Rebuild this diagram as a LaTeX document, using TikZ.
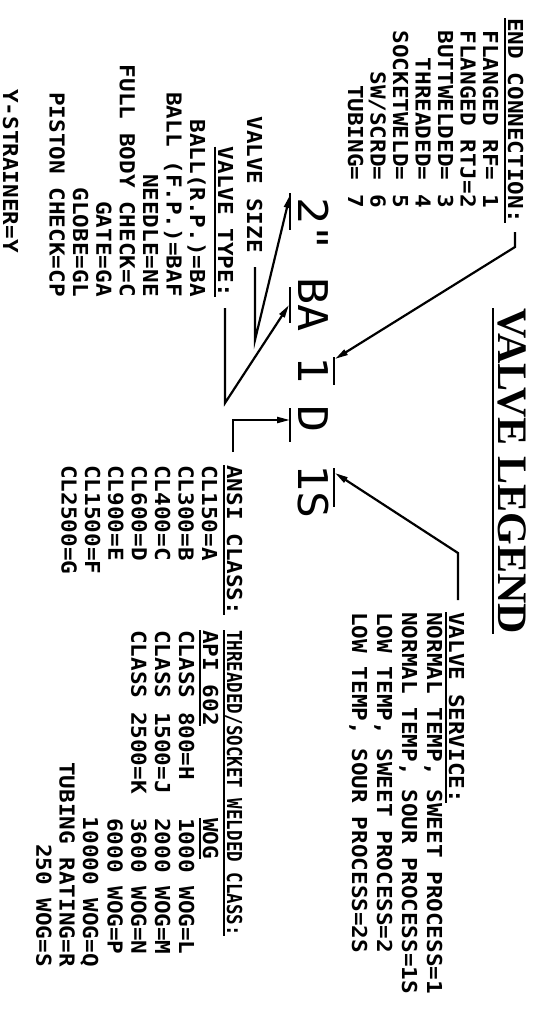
\documentclass[tikz,border=0pt]{standalone}
\usepackage{fontspec}
\usepackage{tikz}
\usetikzlibrary{arrows.meta}
\newfontfamily\cadfont[FakeStretch=1.1]{DejaVu Sans Mono}
\newfontfamily\cadnarrow[FakeStretch=0.85]{DejaVu Sans Mono}
\newfontfamily\legendfont{Liberation Serif}
\tikzset{
  every node/.append style={inner sep=0pt},
  cadtext/.style={rotate=-90,font=\cadfont\bfseries\fontsize{20.6}{22}\selectfont},
  cadcode/.style={rotate=-90,font=\cadfont\fontsize{41}{44}\selectfont},
  leader/.style={line width=2.2pt},
  pointer/.style={leader,-{Triangle[length=13pt,width=6pt]}},
  ruler/.style={line width=2pt},
}

\begin{document}
\begin{tikzpicture}[x=1pt,y=1pt]
  \useasboundingbox (0,0) rectangle (539,-1010);
  % Sheet is turned a quarter turn clockwise: every text runs downwards.
  \node[rotate=-90,anchor=base west,font=\legendfont\bfseries\fontsize{42}{44}\selectfont] (title) at (498,-308) {VALVE LEGEND};
  \draw[ruler] ([xshift=-5pt]title.base west) -- ([xshift=-5pt]title.base east);

  % end connection
  \node[cadtext,anchor=base west] (endhd) at (508,-18) {END CONNECTION:};
  \draw[ruler] ([xshift=-3pt]endhd.base west) -- ([xshift=-3pt]endhd.base east);
  \foreach \t [count=\i] in {FLANGED RF= 1,FLANGED RTJ=2,BUTTWELDED= 3,THREADED= 4,SOCKETWELD= 5,SW/SCRD= 6,TUBING= 7}
    \node[cadtext,anchor=base east] (end\i) at ({483-22.5*(\i-1)},-208) {\t};

  % the valve code
  \node[cadcode,anchor=base west] (size) at (298,-197) {2"};
  \node[cadcode,anchor=base west] (type) at (298,-277) {BA};
  \node[cadcode,anchor=base west] (conn) at (298,-356) {1};
  \node[cadcode,anchor=base west] (class) at (298,-405) {D};
  \node[cadcode,anchor=base west] (serv) at (298,-464) {1S};
  \draw[leader] (290,-193) -- (290,-230);
  \draw[leader] (290,-287) -- (290,-323);
  \draw[leader] (334,-357) -- (334,-385);
  \draw[leader] (290,-408) -- (290,-442);
  \draw[leader] (334,-468) -- (334,-507);
  \coordinate (sizetip) at (290,-195);
  \coordinate (typetip) at (289,-305);
  \coordinate (conntip) at (335,-359);
  \coordinate (classtip) at (290,-420);
  \coordinate (servtip) at (335,-473);

  % valve service
  \node[cadtext,anchor=base west] (servhd) at (449,-612) {VALVE SERVICE:};
  \draw[ruler] ([xshift=-3pt]servhd.base west) -- ([xshift=-3pt]servhd.base east);
  \foreach \t [count=\i] in {{NORMAL TEMP, SWEET PROCESS=1},{NORMAL TEMP, SOUR PROCESS=1S},{LOW TEMP, SWEET PROCESS=2},{LOW TEMP, SOUR PROCESS=2S}}
    \node[cadtext,anchor=base west] (serv\i) at ({427-25*(\i-1)},-612) {\t};

  % valve size and type
  \node[cadtext,anchor=base east] (sizehd) at (247,-253) {VALVE SIZE};
  \node[cadtext,anchor=base east] (typehd) at (218,-297) {VALVE TYPE:};
  \draw[ruler] ([xshift=-3pt]typehd.base west) -- ([xshift=-3pt]typehd.base east);
  \foreach \t [count=\i] in {BALL(R.P.)=BA,BALL (F.P.)=BAF,NEEDLE=NE,FULL BODY CHECK=C,GATE=GA,GLOBE=GL,PISTON CHECK=CP}
    \node[cadtext,anchor=base east] (type\i) at ({190-23.4*(\i-1)},-297) {\t};
  \node[cadtext,anchor=base east] (strainer) at (3,-253) {Y-STRAINER=Y};

  % ansi class
  \node[cadtext,anchor=base west] (ansihd) at (227,-465) {ANSI CLASS:};
  \draw[ruler] ([xshift=-3pt]ansihd.base west) -- ([xshift=-3pt]ansihd.base east);
  \foreach \t [count=\i] in {CL150=A,CL300=B,CL400=C,CL600=D,CL900=E,CL1500=F,CL2500=G}
    \node[cadtext,anchor=base west] (ansi\i) at ({202-23.4*(\i-1)},-465) {\t};

  % threaded / socket welded
  \node[cadtext,anchor=base west,font=\cadnarrow\bfseries\fontsize{20.6}{22}\selectfont] (swhd) at (227,-630) {THREADED/SOCKET WELDED CLASS:};
  \draw[ruler] ([xshift=-3pt]swhd.base west) -- ([xshift=-3pt]swhd.base east);
  \node[cadtext,anchor=base west] (apihd) at (203,-630) {API 602};
  \draw[ruler] ([xshift=-3pt]apihd.base west) -- ([xshift=-3pt]apihd.base east);
  \node[cadtext,anchor=base west] (woghd) at (203,-818) {WOG};
  \draw[ruler] ([xshift=-3pt]woghd.base west) -- ([xshift=-3pt]woghd.base east);
  \foreach \t [count=\i] in {CLASS 800=H,CLASS 1500=J,CLASS 2500=K}
    \node[cadtext,anchor=base west] (api\i) at ({179-23.8*(\i-1)},-630) {\t};
  \foreach \t [count=\i] in {1000 WOG=L,2000 WOG=M,3600 WOG=N,6000 WOG=P}
    \node[cadtext,anchor=base west] (wog\i) at ({179-23.8*(\i-1)},-818) {\t};
  \foreach \t [count=\i] in {10000 WOG=Q,TUBING RATING=R,250 WOG=S}
    \node[cadtext,anchor=base east] (tub\i) at ({83-23.3*(\i-1)},-967) {\t};

  % leaders
  \draw[pointer] (255,-267) -- (255,-340) -- (sizetip);
  \draw[pointer] (225,-308) -- (225,-403) -- (typetip);
  \draw[pointer] (515,-232) -- (515,-247) -- (conntip);
  \draw[pointer] (233,-452) -- (233,-420) -- (classtip);
  \draw[pointer] (458,-600) -- (458,-553) -- (servtip);
\end{tikzpicture}
\end{document}
